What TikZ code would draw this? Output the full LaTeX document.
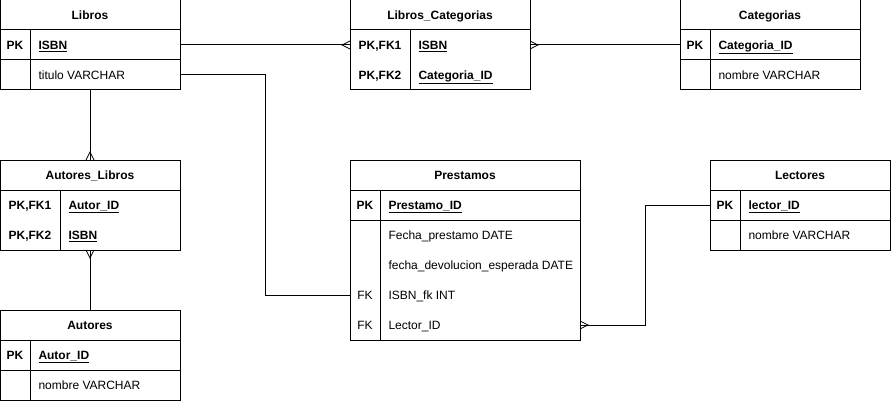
\documentclass[tikz,border=0pt]{standalone}
\usepackage{fontspec}
\setmainfont{Liberation Sans}
\usetikzlibrary{calc}
\begin{document}
\begin{tikzpicture}[x=1pt,y=-1pt,line width=1pt,
  font=\fontsize{12}{14}\selectfont,
  tbl/.style={draw,inner sep=0pt,outer sep=0pt,anchor=north west,fill=white},
  rowbox/.style={draw=none,inner sep=0pt,outer sep=0pt,anchor=north west,minimum height=30pt},
  ttl/.style={font=\fontsize{12}{14}\selectfont\bfseries,anchor=base,inner sep=0pt},
  key/.style={font=\fontsize{12}{14}\selectfont\bfseries,anchor=base,inner sep=0pt},
  fkey/.style={anchor=base,inner sep=0pt},
  fld/.style={anchor=base west,inner sep=0pt},
  pkf/.style={font=\fontsize{12}{14}\selectfont\bfseries,anchor=base west,inner sep=0pt},
  crowline/.style={line width=0.8pt}]
\useasboundingbox (0,0) rectangle (891,401);

% ---------- Libros ----------
\node[tbl,minimum width=180pt,minimum height=90pt] (lib) at (0,0) {};
\draw (0,30) -- (180,30) (0,60) -- (180,60) (30,30) -- (30,90);
\node[ttl] (libT) at (90,19.3) {Libros};
\node[rowbox,minimum width=180pt] (libISBN) at (0,30) {};
\node[rowbox,minimum width=180pt] (libTit) at (0,60) {};
\node[key] (libK1) at (15,49.3) {PK};
\node[pkf] (libF1) at (38,49.3) {\underline{ISBN}};
\node[fld] (libF2) at (38,79.3) {titulo VARCHAR};

% ---------- Libros_Categorias ----------
\node[tbl,minimum width=180pt,minimum height=90pt] (lc) at (350,0) {};
\draw (350,30) -- (530,30) (410,30) -- (410,90);
\node[ttl] (lcT) at (440,19.3) {Libros\_Categorias};
\node[rowbox,minimum width=180pt] (lcISBN) at (350,30) {};
\node[rowbox,minimum width=180pt] (lcCat) at (350,60) {};
\node[key] (lcK1) at (380,49.3) {PK,FK1};
\node[key] (lcK2) at (380,79.3) {PK,FK2};
\node[pkf] (lcF1) at (418,49.3) {\underline{ISBN}};
\node[pkf] (lcF2) at (418,79.3) {\underline{Categoria\_ID}};

% ---------- Categorias ----------
\node[tbl,minimum width=180pt,minimum height=90pt] (cat) at (680,0) {};
\draw (680,30) -- (860,30) (680,60) -- (860,60) (710,30) -- (710,90);
\node[ttl] (catT) at (770,19.3) {Categorias};
\node[rowbox,minimum width=180pt] (catID) at (680,30) {};
\node[key] (catK1) at (695,49.3) {PK};
\node[pkf] (catF1) at (718,49.3) {\underline{Categoria\_ID}};
\node[fld] (catF2) at (718,79.3) {nombre VARCHAR};

% ---------- Autores_Libros ----------
\node[tbl,minimum width=180pt,minimum height=90pt] (al) at (0,160) {};
\draw (0,190) -- (180,190) (60,190) -- (60,250);
\node[ttl] (alT) at (90,179.3) {Autores\_Libros};
\node[key] (alK1) at (30,209.3) {PK,FK1};
\node[key] (alK2) at (30,239.3) {PK,FK2};
\node[pkf] (alF1) at (68,209.3) {\underline{Autor\_ID}};
\node[pkf] (alF2) at (68,239.3) {\underline{ISBN}};

% ---------- Autores ----------
\node[tbl,minimum width=180pt,minimum height=90pt] (aut) at (0,310) {};
\draw (0,340) -- (180,340) (0,370) -- (180,370) (30,340) -- (30,400);
\node[ttl] (autT) at (90,329.3) {Autores};
\node[key] (autK1) at (15,359.3) {PK};
\node[pkf] (autF1) at (38,359.3) {\underline{Autor\_ID}};
\node[fld] (autF2) at (38,389.3) {nombre VARCHAR};

% ---------- Prestamos ----------
\node[tbl,minimum width=230pt,minimum height=180pt] (pre) at (350,160) {};
\draw (350,190) -- (580,190) (350,220) -- (580,220) (380,190) -- (380,340);
\node[ttl] (preT) at (465,179.3) {Prestamos};
\node[rowbox,minimum width=230pt] (preISBN) at (350,280) {};
\node[rowbox,minimum width=230pt] (preLec) at (350,310) {};
\node[key] (preK1) at (365,209.3) {PK};
\node[pkf] (preF1) at (388,209.3) {\underline{Prestamo\_ID}};
\node[fld] (preF2) at (388,239.3) {Fecha\_prestamo DATE};
\node[fld] (preF3) at (388,269.3) {fecha\_devolucion\_esperada DATE};
\node[fkey] (preK4) at (365,299.3) {FK};
\node[fld] (preF4) at (388,299.3) {ISBN\_fk INT};
\node[fkey] (preK5) at (365,329.3) {FK};
\node[fld] (preF5) at (388,329.3) {Lector\_ID};

% ---------- Lectores ----------
\node[tbl,minimum width=180pt,minimum height=90pt] (lec) at (710,160) {};
\draw (710,190) -- (890,190) (710,220) -- (890,220) (740,190) -- (740,250);
\node[ttl] (lecT) at (800,179.3) {Lectores};
\node[rowbox,minimum width=180pt] (lecID) at (710,190) {};
\node[key] (lecK1) at (725,209.3) {PK};
\node[pkf] (lecF1) at (748,209.3) {\underline{lector\_ID}};
\node[fld] (lecF2) at (748,239.3) {nombre VARCHAR};

% ---------- Connectors ----------
\draw (libISBN.east) -- (lcISBN.west);
\draw[crowline] ($(lcISBN.west)+(0,-4)$) -- ($(lcISBN.west)+(-8,0)$) -- ($(lcISBN.west)+(0,4)$);

\draw (lcISBN.east) -- (catID.west);
\draw[crowline] ($(lcISBN.east)+(0,-4)$) -- ($(lcISBN.east)+(8,0)$) -- ($(lcISBN.east)+(0,4)$);

\draw (lib.south) -- (al.north);
\draw[crowline] ($(al.north)+(-4,0)$) -- ($(al.north)+(0,-8)$) -- ($(al.north)+(4,0)$);

\draw (aut.north) -- (al.south);
\draw[crowline] ($(al.south)+(-4,0)$) -- ($(al.south)+(0,8)$) -- ($(al.south)+(4,0)$);

\draw (libTit.east) -- ++(85,0) |- (preISBN.west);

\draw (preLec.east) -- ++(65,0) |- (lecID.west);
\draw[crowline] ($(preLec.east)+(0,-4)$) -- ($(preLec.east)+(8,0)$) -- ($(preLec.east)+(0,4)$);
\end{tikzpicture}
\end{document}
